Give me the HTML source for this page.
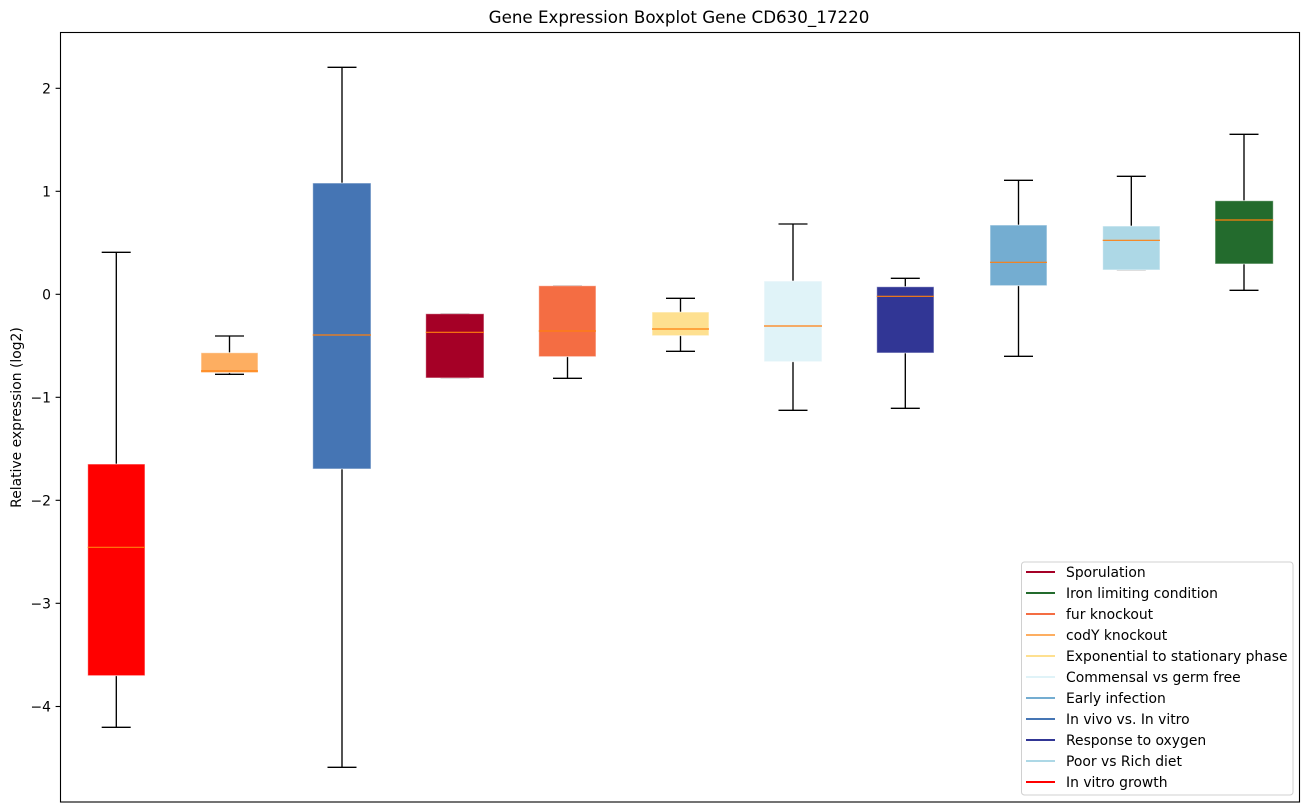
<!DOCTYPE html>
<html><head><meta charset="utf-8"><style>
html,body{margin:0;padding:0;background:#fff;}
svg{display:block;}
text{font-family:"DejaVu Sans","Liberation Sans",sans-serif;fill:#000;}
</style></head><body>
<svg width="1309" height="812" viewBox="0 0 1309 812" xmlns="http://www.w3.org/2000/svg">
<rect x="0" y="0" width="1309" height="812" fill="#fff"/>
<text x="679" y="23" font-size="16.7" text-anchor="middle">Gene Expression Boxplot Gene CD630_17220</text>
<g stroke="#000" stroke-width="1.35" fill="none">
<line x1="116.3" y1="252.3" x2="116.3" y2="464"/>
<line x1="116.3" y1="675.7" x2="116.3" y2="727.3"/>
<line x1="101.7" y1="252.3" x2="130.7" y2="252.3"/>
<line x1="101.7" y1="727.3" x2="130.7" y2="727.3"/>
<line x1="229.5" y1="336" x2="229.5" y2="352.7"/>
<line x1="229.5" y1="372.7" x2="229.5" y2="374.3"/>
<line x1="215" y1="336" x2="244" y2="336"/>
<line x1="215" y1="374.3" x2="244" y2="374.3"/>
<line x1="342" y1="67.3" x2="342" y2="183"/>
<line x1="342" y1="469" x2="342" y2="767.3"/>
<line x1="327.5" y1="67.3" x2="356.5" y2="67.3"/>
<line x1="327.5" y1="767.3" x2="356.5" y2="767.3"/>
<line x1="567.5" y1="356.7" x2="567.5" y2="378.3"/>
<line x1="553" y1="378.3" x2="582" y2="378.3"/>
<line x1="680.5" y1="298.3" x2="680.5" y2="312"/>
<line x1="680.5" y1="335.7" x2="680.5" y2="351.3"/>
<line x1="666" y1="298.3" x2="695" y2="298.3"/>
<line x1="666" y1="351.3" x2="695" y2="351.3"/>
<line x1="793" y1="224" x2="793" y2="281"/>
<line x1="793" y1="361.7" x2="793" y2="410.3"/>
<line x1="778.5" y1="224" x2="807.5" y2="224"/>
<line x1="778.5" y1="410.3" x2="807.5" y2="410.3"/>
<line x1="905.3" y1="278.3" x2="905.3" y2="286.7"/>
<line x1="905.3" y1="353" x2="905.3" y2="408.3"/>
<line x1="890.8" y1="278.3" x2="919.8" y2="278.3"/>
<line x1="890.8" y1="408.3" x2="919.8" y2="408.3"/>
<line x1="1018.5" y1="180.3" x2="1018.5" y2="225"/>
<line x1="1018.5" y1="285.7" x2="1018.5" y2="356.3"/>
<line x1="1004" y1="180.3" x2="1033" y2="180.3"/>
<line x1="1004" y1="356.3" x2="1033" y2="356.3"/>
<line x1="1131.3" y1="176.3" x2="1131.3" y2="226"/>
<line x1="1116.8" y1="176.3" x2="1145.8" y2="176.3"/>
<line x1="1244" y1="134.3" x2="1244" y2="200.7"/>
<line x1="1244" y1="264" x2="1244" y2="290.3"/>
<line x1="1229.5" y1="134.3" x2="1258.5" y2="134.3"/>
<line x1="1229.5" y1="290.3" x2="1258.5" y2="290.3"/>
</g>
<g stroke="#999" stroke-width="1.2">
<line x1="440.5" y1="313.7" x2="469.5" y2="313.7"/>
<line x1="440.5" y1="378" x2="469.5" y2="378"/>
<line x1="553" y1="285.7" x2="582" y2="285.7"/>
<line x1="1116.8" y1="270" x2="1145.8" y2="270"/>
</g>
<g stroke="rgba(255,255,255,0.6)" stroke-width="1">
<rect x="87.7" y="464" width="57.3" height="211.7" fill="#ff0000"/>
<rect x="201" y="352.7" width="57" height="20" fill="#fdae61"/>
<rect x="312.7" y="183" width="58.3" height="286" fill="#4575b4"/>
<rect x="425.7" y="313.7" width="58.3" height="64.3" fill="#a50026"/>
<rect x="538.7" y="285.7" width="57.3" height="71" fill="#f46d43"/>
<rect x="652" y="312" width="57" height="23.7" fill="#fee090"/>
<rect x="764" y="281" width="58" height="80.7" fill="#e0f3f8"/>
<rect x="876.7" y="286.7" width="57.3" height="66.3" fill="#313695"/>
<rect x="990" y="225" width="57" height="60.7" fill="#74add1"/>
<rect x="1102.7" y="226" width="57.3" height="44" fill="#add8e6"/>
<rect x="1215" y="200.7" width="58.3" height="63.3" fill="#236b2d"/>
</g>
<g stroke="#ff7f0e" stroke-width="1.2">
<line x1="87.7" y1="547.3" x2="145" y2="547.3"/>
<line x1="201" y1="371" x2="258" y2="371"/>
<line x1="312.7" y1="335" x2="371" y2="335"/>
<line x1="425.7" y1="332.3" x2="484" y2="332.3"/>
<line x1="538.7" y1="331" x2="596" y2="331"/>
<line x1="652" y1="329" x2="709" y2="329"/>
<line x1="764" y1="326" x2="822" y2="326"/>
<line x1="876.7" y1="296.3" x2="934" y2="296.3"/>
<line x1="990" y1="262.3" x2="1047" y2="262.3"/>
<line x1="1102.7" y1="240.3" x2="1160" y2="240.3"/>
<line x1="1215" y1="220" x2="1273.3" y2="220"/>
</g>
<rect x="60.5" y="32.5" width="1239" height="769.5" fill="none" stroke="#000" stroke-width="1.1"/>
<g stroke="#000" stroke-width="1.1">
<line x1="55.6" y1="88.3" x2="60.5" y2="88.3"/>
<line x1="55.6" y1="191.3" x2="60.5" y2="191.3"/>
<line x1="55.6" y1="294.3" x2="60.5" y2="294.3"/>
<line x1="55.6" y1="397.3" x2="60.5" y2="397.3"/>
<line x1="55.6" y1="500.3" x2="60.5" y2="500.3"/>
<line x1="55.6" y1="603.3" x2="60.5" y2="603.3"/>
<line x1="55.6" y1="706.5" x2="60.5" y2="706.5"/>
</g>
<g font-size="13.9" text-anchor="end">
<text x="51" y="93.3">2</text>
<text x="51" y="196.3">1</text>
<text x="51" y="299.3">0</text>
<text x="51" y="402.3">−1</text>
<text x="51" y="505.3">−2</text>
<text x="51" y="608.3">−3</text>
<text x="51" y="711.5">−4</text>
</g>
<text transform="translate(21,417.5) rotate(-90)" font-size="13.9" text-anchor="middle">Relative expression (log2)</text>
<rect x="1021.5" y="562" width="271.5" height="233" rx="3" ry="3" fill="rgba(255,255,255,0.85)" stroke="#d0d0d0" stroke-width="1"/>
<g stroke-width="2">
<line x1="1026" y1="572" x2="1055" y2="572" stroke="#a50026"/>
<line x1="1026" y1="593" x2="1055" y2="593" stroke="#236b2d"/>
<line x1="1026" y1="614" x2="1055" y2="614" stroke="#f46d43"/>
<line x1="1026" y1="635" x2="1055" y2="635" stroke="#fdae61"/>
<line x1="1026" y1="656" x2="1055" y2="656" stroke="#fee090"/>
<line x1="1026" y1="677" x2="1055" y2="677" stroke="#e0f3f8"/>
<line x1="1026" y1="698" x2="1055" y2="698" stroke="#74add1"/>
<line x1="1026" y1="719" x2="1055" y2="719" stroke="#4575b4"/>
<line x1="1026" y1="740" x2="1055" y2="740" stroke="#313695"/>
<line x1="1026" y1="761" x2="1055" y2="761" stroke="#add8e6"/>
<line x1="1026" y1="782" x2="1055" y2="782" stroke="#ff0000"/>
</g>
<g font-size="13.9">
<text x="1066" y="577">Sporulation</text>
<text x="1066" y="598">Iron limiting condition</text>
<text x="1066" y="619">fur knockout</text>
<text x="1066" y="640">codY knockout</text>
<text x="1066" y="661">Exponential to stationary phase</text>
<text x="1066" y="682">Commensal vs germ free</text>
<text x="1066" y="703">Early infection</text>
<text x="1066" y="724">In vivo vs. In vitro</text>
<text x="1066" y="745">Response to oxygen</text>
<text x="1066" y="766">Poor vs Rich diet</text>
<text x="1066" y="787">In vitro growth</text>
</g>
</svg>
</body></html>
